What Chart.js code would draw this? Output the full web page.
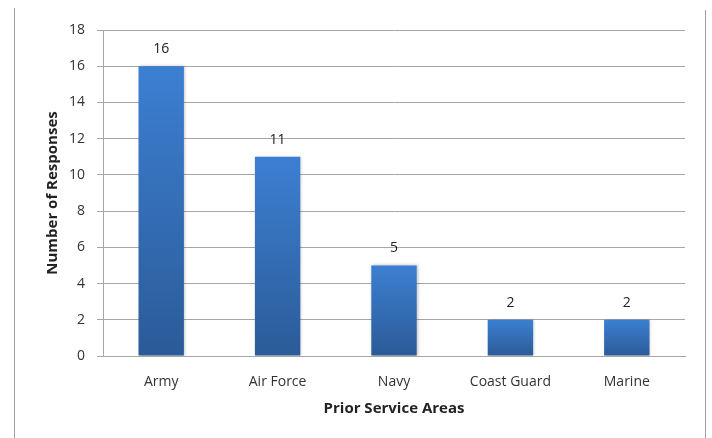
<!DOCTYPE html>
<html>
<head>
<meta charset="utf-8">
<script src="https://cdn.jsdelivr.net/npm/chart.js@4.4.1/dist/chart.umd.min.js"></script>
<style>
  html, body { margin: 0; padding: 0; background: #ffffff; }
  #wrap { width: 712px; height: 438px; position: relative; }
</style>
</head>
<body>
<div id="wrap"><canvas id="chart"></canvas></div>
<script>
// categories and values
const areas = ["Army", "Air Force", "Navy", "Coast Guard", "Marine"];
const responses = [16, 11, 5, 2, 2];
const yTicks = [0, 2, 4, 6, 8, 10, 12, 14, 16, 18];

const textColor = "#333333";
const gridColor = "#a6a6a6";
const fontName = "'Open Sans', 'Liberation Sans', sans-serif";

//gradient fill per bar, light at the top and dark at the bottom
function barFill(context) {
  const chart = context.chart;
  const yScale = chart.scales.y;
  if (!yScale || context.dataIndex === undefined) return "#3a7bcc";
  const top = yScale.getPixelForValue(responses[context.dataIndex]);
  const base = yScale.getPixelForValue(0);
  if (!isFinite(top) || !isFinite(base) || top === base) return "#3a7bcc";
  const g = chart.ctx.createLinearGradient(0, top, 0, base);
  g.addColorStop(0, "#3c7fd2");
  g.addColorStop(1, "#2b5b98");
  return g;
}

//soft shadow at the side of the bars
const barShadow = {
  id: "barShadow",
  beforeDatasetDraw(chart) {
    const ctx = chart.ctx;
    ctx.save();
    ctx.shadowColor = "rgba(0,0,0,0.25)";
    ctx.shadowBlur = 3;
    ctx.shadowOffsetX = 1;
    ctx.shadowOffsetY = 0;
  },
  afterDatasetDraw(chart) {
    chart.ctx.restore();
  },
};

//value labels above the bars
const valueLabels = {
  id: "valueLabels",
  afterDatasetsDraw(chart) {
    const ctx = chart.ctx;
    ctx.save();
    ctx.fillStyle = "#222222";
    ctx.font = "14px " + fontName;
    ctx.textAlign = "center";
    ctx.textBaseline = "middle";
    chart.getDatasetMeta(0).data.forEach((bar, i) => {
      ctx.fillText(String(responses[i]), bar.x, bar.y - 17);
    });
    ctx.restore();
  },
};

//thin frame lines at the sides of the picture
const frame = {
  id: "frame",
  beforeDraw(chart) {
    const ctx = chart.ctx;
    ctx.save();
    ctx.strokeStyle = "#a0a0a0";
    ctx.lineWidth = 1;
    ctx.beginPath();
    ctx.moveTo(14.5, 8);
    ctx.lineTo(14.5, 438);
    ctx.moveTo(705.5, 10);
    ctx.lineTo(705.5, 438);
    ctx.stroke();
    ctx.restore();
  },
};

new Chart(document.getElementById("chart"), {
  type: "bar",
  plugins: [barShadow, valueLabels, frame],
  data: {
    labels: areas,
    datasets: [
      {
        data: responses,
        backgroundColor: barFill,
        borderWidth: 0,
        categoryPercentage: 1,
        barPercentage: 0.39,
      },
    ],
  },
  options: {
    responsive: true,
    maintainAspectRatio: false,
    animation: false,
    layout: { padding: { left: 40, right: 27, top: 30, bottom: 20 } },
    plugins: {
      legend: { display: false },
      tooltip: { enabled: false },
    },
    scales: {
      x: {
        grid: { display: false },
        border: { display: true, color: gridColor, width: 1 },
        ticks: {
          color: textColor,
          font: { family: fontName, size: 14 },
          padding: 10,
          maxRotation: 0,
        },
        title: {
          display: true,
          text: "Prior Service Areas",
          color: "#222222",
          font: { family: fontName, size: 15, weight: "bold" },
          padding: { top: 0, bottom: 0 },
        },
        afterFit(scale) {
          scale.height = 62;
        },
      },
      y: {
        min: 0,
        max: 18,
        afterBuildTicks(scale) {
          scale.ticks = yTicks.map((v) => ({ value: v }));
        },
        grid: { color: gridColor, tickLength: 6, lineWidth: 1 },
        border: { display: true, color: gridColor, width: 1 },
        ticks: {
          color: textColor,
          font: { family: fontName, size: 14 },
          padding: 12,
        },
        title: {
          display: true,
          text: "Number of Responses",
          color: "#222222",
          font: { family: fontName, size: 15, weight: "bold" },
          padding: { top: 4, bottom: 0 },
        },
        afterFit(scale) {
          scale.width = 63;
        },
      },
    },
  },
});
</script>
</body>
</html>
